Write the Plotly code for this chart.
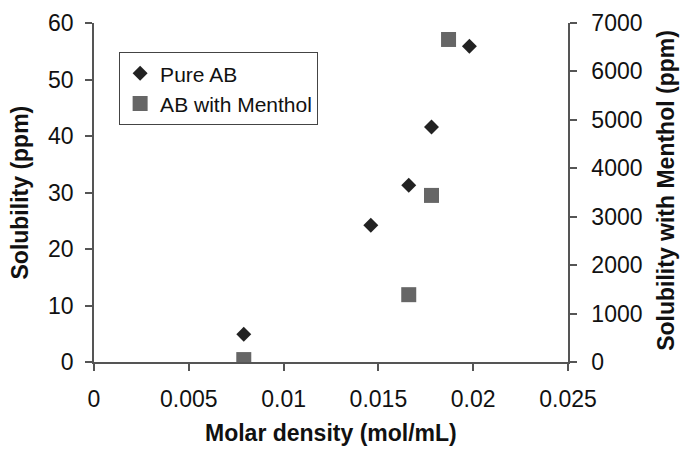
import plotly.graph_objects as go

pure_x = [0.0079, 0.0146, 0.0166, 0.0178, 0.0198]
pure_y = [4.9, 24.2, 31.3, 41.6, 55.9]
menthol_x = [0.0079, 0.0166, 0.0178, 0.0187]
menthol_y = [50, 1390, 3440, 6660]

x_title = "Molar density (mol/mL)"
y_title = "Solubility (ppm)"
y2_title = "Solubility with Menthol (ppm)"

FONT = "Liberation Sans, Arial, sans-serif"

fig = go.Figure()
fig.add_trace(go.Scatter(
    x=pure_x, y=pure_y, mode="markers", name="Pure AB",
    marker=dict(symbol="diamond", size=11.5, color="#222222"),
    yaxis="y"))
fig.add_trace(go.Scatter(
    x=menthol_x, y=menthol_y, mode="markers", name="AB with Menthol",
    marker=dict(symbol="square", size=15, color="#666666"),
    yaxis="y2"))

axis_common = dict(showgrid=False, zeroline=False, showline=True,
                   linecolor="#555555", linewidth=1.5, ticks="outside",
                   ticklen=7, tickwidth=1.5, tickcolor="#555555",
                   automargin=False,
                   tickfont=dict(family=FONT, size=23, color="#111111"))

title_font = dict(family=FONT, size=23, color="#111111")

fig.update_layout(
    width=680, height=451,
    margin=dict(l=94, r=112, t=23, b=89),
    paper_bgcolor="white", plot_bgcolor="white",
    showlegend=True,
    legend=dict(x=0.053, y=0.914, xanchor="left", yanchor="top",
                bordercolor="#444444", borderwidth=1, bgcolor="white",
                font=dict(family=FONT, size=21, color="#111111"),
                itemwidth=30),
    xaxis=dict(range=[0, 0.025], dtick=0.005, tick0=0, ticklabelstandoff=9,
               **axis_common),
    yaxis=dict(range=[0, 60], dtick=10, ticklabelstandoff=7,
               **axis_common),
    yaxis2=dict(range=[0, 7000], dtick=1000, overlaying="y", side="right",
                ticklabelstandoff=10, **axis_common),
    annotations=[
        dict(text="<b>%s</b>" % x_title, xref="paper", yref="paper",
             x=0.5, y=-0.2094, xanchor="center", yanchor="middle",
             showarrow=False, font=title_font),
        dict(text="<b>%s</b>" % y_title, xref="paper", yref="paper",
             x=-0.1582, y=0.5, xanchor="center", yanchor="middle",
             textangle=-90, showarrow=False, font=title_font),
        dict(text="<b>%s</b>" % y2_title, xref="paper", yref="paper",
             x=1.2068, y=0.505, xanchor="center", yanchor="middle",
             textangle=-90, showarrow=False, font=title_font),
    ],
)

fig.write_html("out.html")
